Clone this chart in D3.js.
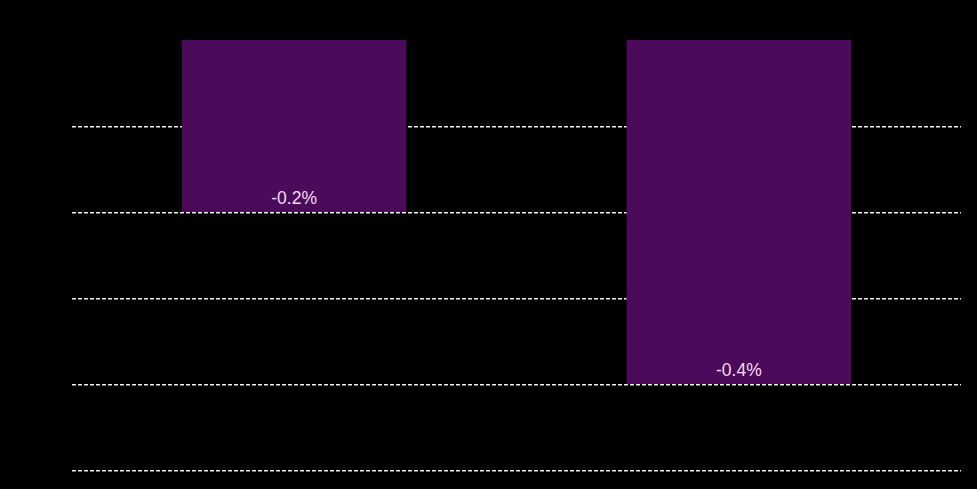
<!DOCTYPE html>
<html>
<head>
<meta charset="utf-8">
<script src="https://cdn.jsdelivr.net/npm/d3@7"></script>
<style>
  html, body { margin: 0; padding: 0; background: #000; }
  svg { display: block; }
</style>
</head>
<body>
<svg id="chart" width="977" height="489"></svg>
<script>
const categories = ["A", "B"];
const values = [-0.2, -0.4];
const labels = ["-0.2%", "-0.4%"];
const gridTicks = [-0.1, -0.2, -0.3, -0.4, -0.5];

const W = 977, H = 489;
const margin = { left: 72, right: 16, top: 40, bottom: 19 };
const svg = d3.select("#chart");

svg.append("rect").attr("width", W).attr("height", H).attr("fill", "#000");

const x = d3.scaleBand()
  .domain(categories)
  .range([margin.left, W - margin.right])
  .paddingInner(0.495)
  .paddingOuter(0.247);

const y = d3.scaleLinear()
  .domain([-0.5, 0])
  .range([H - margin.bottom, margin.top]);

// gridlines
svg.append("g")
  .selectAll("line")
  .data(gridTicks)
  .join("line")
  .attr("x1", margin.left)
  .attr("x2", W - margin.right)
  .attr("y1", d => Math.round(y(d)) + 0.7)
  .attr("y2", d => Math.round(y(d)) + 0.7)
  .attr("stroke", "#f0f0f0")
  .attr("stroke-width", 1.6)
  .attr("stroke-dasharray", "4,2");

// bars
svg.append("g")
  .selectAll("rect")
  .data(categories)
  .join("rect")
  .attr("x", d => x(d))
  .attr("width", x.bandwidth())
  .attr("y", y(0))
  .attr("height", (d, i) => y(values[i]) - y(0))
  .attr("fill", "#4b0a5a");

// value labels
svg.append("g")
  .selectAll("text")
  .data(categories)
  .join("text")
  .attr("x", d => x(d) + x.bandwidth() / 2)
  .attr("y", (d, i) => y(values[i]) - 8.5)
  .attr("text-anchor", "middle")
  .attr("font-family", "Liberation Sans, Arial, sans-serif")
  .attr("font-size", 17.5)
  .attr("fill", "#f3dcf3")
  .text((d, i) => labels[i]);
</script>
</body>
</html>
